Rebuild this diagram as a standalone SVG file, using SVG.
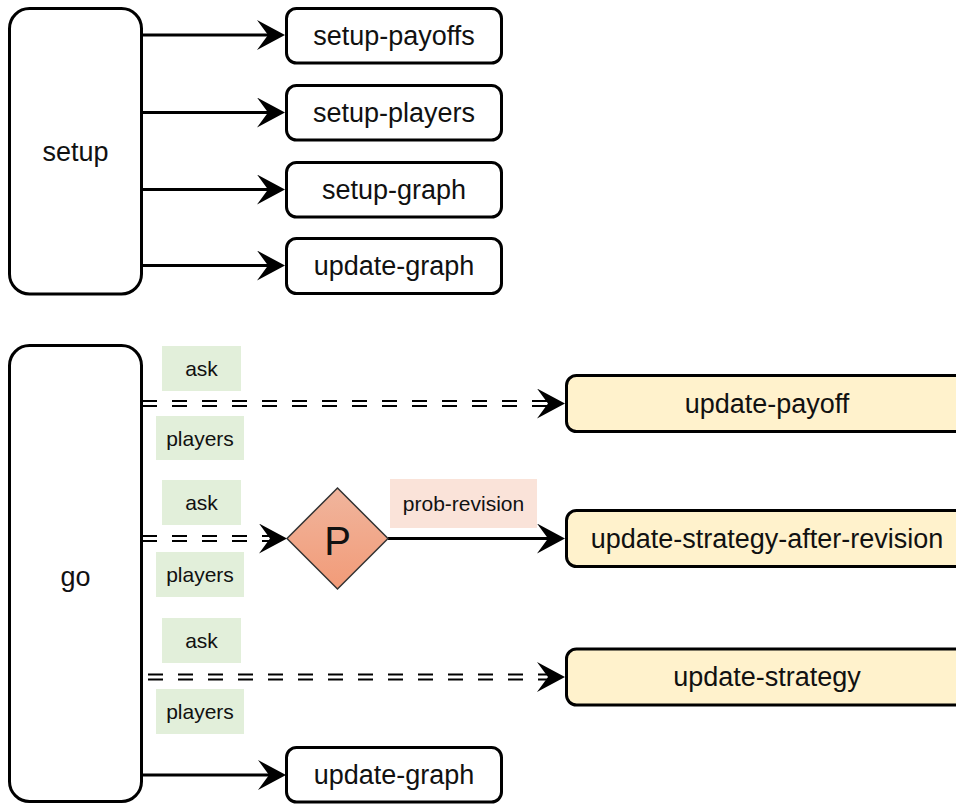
<svg xmlns="http://www.w3.org/2000/svg" width="956" height="804" viewBox="0 0 956 804">
<defs>
  <marker id="arrow" viewBox="0 0 28 30" markerWidth="28" markerHeight="30" refX="11" refY="15" markerUnits="userSpaceOnUse" orient="auto">
    <path d="M0,0 L28,15 L0,30 L11,15 Z" fill="#000"/>
  </marker>
  <linearGradient id="pgrad" x1="0" y1="0" x2="0" y2="1">
    <stop offset="0" stop-color="#f0b59d"/>
    <stop offset="1" stop-color="#f29b78"/>
  </linearGradient>
  <style>
    .box { fill: #fff; stroke: #000; stroke-width: 3; }
    .ybox { fill: #fff2cc; stroke: #000; stroke-width: 3; }
    .lbl { fill: #e2efda; stroke: none; }
    .plbl { fill: #fae3d9; stroke: none; }
    .t { font-family: "Liberation Sans", Arial, sans-serif; font-size: 27px; fill: #111; text-anchor: middle; dominant-baseline: central; }
    .s { font-family: "Liberation Sans", Arial, sans-serif; font-size: 21px; fill: #111; text-anchor: middle; dominant-baseline: central; }
    .solid { stroke: #000; stroke-width: 3; fill: none; marker-end: url(#arrow); }
    .dash { stroke: #000; stroke-width: 1.8; fill: none; stroke-dasharray: 15 15; }
    .carrier { stroke: none; fill: none; marker-end: url(#arrow); }
  </style>
</defs>
<rect width="956" height="804" fill="#fff"/>

<g id="connectors">
  <path class="solid" d="M142,35 L268,35"/>
  <path class="solid" d="M142,112.5 L268,112.5"/>
  <path class="solid" d="M142,189.5 L268,189.5"/>
  <path class="solid" d="M142,265.5 L268,265.5"/>

  <g id="ask-payoff">
    <path class="dash" d="M142,401 L548,401"/>
    <path class="dash" d="M142,406 L548,406"/>
    <path class="carrier" d="M540,403.5 L548,403.5"/>
  </g>
  <g id="ask-p">
    <path class="dash" d="M142,536 L270,536"/>
    <path class="dash" d="M142,541 L270,541"/>
    <path class="carrier" d="M262,538.5 L270,538.5"/>
  </g>
  <path class="solid" d="M388,538.5 L548,538.5"/>
  <g id="ask-strategy">
    <path class="dash" d="M148,674.5 L548,674.5"/>
    <path class="dash" d="M148,679.5 L548,679.5"/>
    <path class="carrier" d="M540,677 L548,677"/>
  </g>
  <path class="solid" d="M142,775 L269,775"/>

  <g id="edge-labels">
    <rect class="lbl" x="162" y="346" width="79" height="45"/>
    <text class="s" x="201.5" y="368.5">ask</text>
    <rect class="lbl" x="156" y="416" width="88" height="44"/>
    <text class="s" x="200" y="438">players</text>
    <rect class="lbl" x="162" y="480" width="79" height="45"/>
    <text class="s" x="201.5" y="502.5">ask</text>
    <rect class="lbl" x="156" y="552" width="88" height="45"/>
    <text class="s" x="200" y="574.5">players</text>
    <rect class="lbl" x="162" y="618" width="79" height="45"/>
    <text class="s" x="201.5" y="640.5">ask</text>
    <rect class="lbl" x="156" y="689" width="88" height="45"/>
    <text class="s" x="200" y="711.5">players</text>
    <rect class="plbl" x="390" y="479" width="147" height="49"/>
    <text class="s" x="463.5" y="503.5">prob-revision</text>
  </g>
</g>

<g id="setup">
  <rect class="box" x="9.5" y="8.5" width="132" height="285.5" rx="20"/>
  <text class="t" x="75.5" y="152">setup</text>
</g>
<g id="setup-payoffs">
  <rect class="box" x="286.5" y="8.5" width="215" height="54.5" rx="10"/>
  <text class="t" x="394" y="35.5">setup-payoffs</text>
</g>
<g id="setup-players">
  <rect class="box" x="286.5" y="85.5" width="215" height="54.5" rx="10"/>
  <text class="t" x="394" y="112.5">setup-players</text>
</g>
<g id="setup-graph">
  <rect class="box" x="286.5" y="162.5" width="215" height="54.5" rx="10"/>
  <text class="t" x="394" y="189.5">setup-graph</text>
</g>
<g id="update-graph-1">
  <rect class="box" x="286.5" y="238.5" width="215" height="55" rx="10"/>
  <text class="t" x="394" y="266">update-graph</text>
</g>

<g id="go">
  <rect class="box" x="9.5" y="345.5" width="132" height="456" rx="20"/>
  <text class="t" x="75.5" y="577">go</text>
</g>
<g id="update-payoff">
  <rect class="ybox" x="566.5" y="375.5" width="400" height="56" rx="10"/>
  <text class="t" x="767" y="403.5">update-payoff</text>
</g>
<g id="p-decision">
  <path d="M337.5,488 L388,538.5 L337.5,589 L287,538.5 Z" fill="url(#pgrad)" stroke="#333" stroke-width="1.5"/>
  <text class="t" x="337.5" y="541" style="font-size:40px">P</text>
</g>
<g id="update-strategy-after-revision">
  <rect class="ybox" x="566.5" y="510.5" width="400" height="56" rx="10"/>
  <text class="t" x="767" y="538.5">update-strategy-after-revision</text>
</g>
<g id="update-strategy">
  <rect class="ybox" x="566.5" y="649" width="400" height="56" rx="10"/>
  <text class="t" x="767" y="677">update-strategy</text>
</g>
<g id="update-graph-2">
  <rect class="box" x="286.5" y="747.5" width="215" height="54.5" rx="10"/>
  <text class="t" x="394" y="775">update-graph</text>
</g>
</svg>
